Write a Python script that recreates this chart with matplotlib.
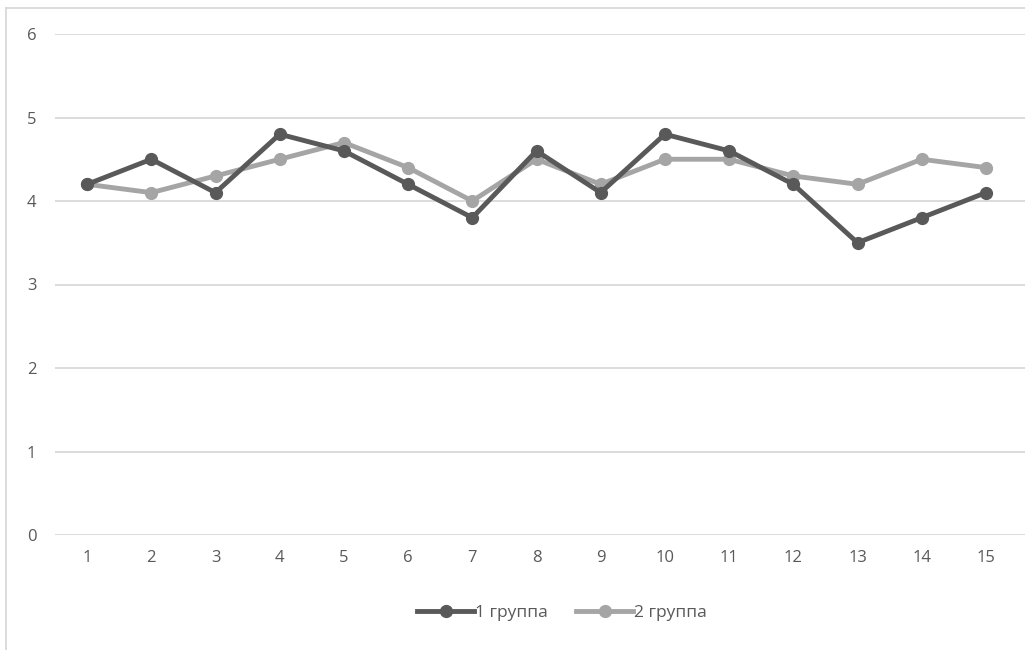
import matplotlib
matplotlib.use("Agg")
import matplotlib.pyplot as plt
import matplotlib.transforms as mtransforms
from matplotlib.lines import Line2D

categories = list(range(1, 16))
group1 = [4.2, 4.5, 4.1, 4.8, 4.6, 4.2, 3.8, 4.6, 4.1, 4.8, 4.6, 4.2, 3.5, 3.8, 4.1]
group2 = [4.2, 4.1, 4.3, 4.5, 4.7, 4.4, 4.0, 4.5, 4.2, 4.5, 4.5, 4.3, 4.2, 4.5, 4.4]
labels = ["1 группа", "2 группа"]
yticks = [0, 1, 2, 3, 4, 5, 6]

plt.rcParams['font.family'] = ['Open Sans', 'DejaVu Sans']

W, H = 1025, 650
fig = plt.figure(figsize=(W / 100, H / 100), dpi=100)
ax = fig.add_axes([55 / W, 1 - 535 / H, (W - 55) / W, (535 - 34) / H])

c1, c2 = "#595959", "#a5a5a5"
ax.plot(categories, group1, color=c1, lw=3.5, marker="o", ms=8.5, label=labels[0], zorder=4)
ax.plot(categories, group2, color=c2, lw=3.5, marker="o", ms=8.5, label=labels[1], zorder=3)

ax.set_ylim(0, 6)
ax.set_xlim(0.5, 0.5 + (W - 55) / 64.2)
ax.set_yticks(yticks)
ax.set_xticks(categories)
ax.set_xticklabels([str(c) for c in categories])
ax.grid(axis="y", color="#d9d9d9", lw=1.3)
ax.set_axisbelow(True)
for s in ax.spines.values():
    s.set_visible(False)
ax.tick_params(length=0, labelsize=12, colors="#595959")
ax.tick_params(axis="x", pad=11)
ax.yaxis.set_tick_params(pad=0)
for lab in ax.get_yticklabels():
    lab.set_horizontalalignment("left")
    lab.set_transform(lab.get_transform() + mtransforms.ScaledTranslation(-28 / 100, 0, fig.dpi_scale_trans))

leg = fig.legend(loc="center", bbox_to_anchor=(562 / W, 1 - 613 / H), ncol=2, frameon=False,
                 fontsize=12.5, labelcolor="#595959", handlelength=3.3, columnspacing=1.6,
                 handletextpad=0.05)

# chart border (top and left visible)
fig.add_artist(Line2D([6 / W, 6 / W], [0, 1 - 8 / H], color="#d9d9d9", lw=1.3))
fig.add_artist(Line2D([6 / W, 1], [1 - 8 / H, 1 - 8 / H], color="#d9d9d9", lw=1.3))

fig.savefig("out.png", dpi=100)
